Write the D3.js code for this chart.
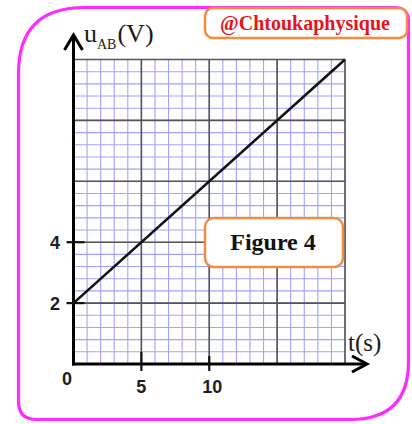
<!DOCTYPE html>
<html>
<head>
<meta charset="utf-8">
<script src="https://cdn.jsdelivr.net/npm/d3@7"></script>
<style>
  html, body { margin: 0; padding: 0; background: #fff; }
  svg { display: block; }
</style>
</head>
<body>
<svg id="chart" width="412" height="424"></svg>
<script>
// Measured points of u_AB(t)
const timeS = [0, 20];
const voltageV = [2, 10];

// Axis domains and tick labels
const tDomain = [0, 20];
const uDomain = [0, 10];
const xTickValues = [5, 10];
const yTickValues = [2, 4];
const majorStepT = 5, minorStepT = 1;
const majorStepU = 2, minorStepU = 0.4;

const svg = d3.select("#chart");

const x = d3.scaleLinear().domain(tDomain).range([73.5, 345]);
const y = d3.scaleLinear().domain(uDomain).range([364, 59.5]);

// Outer magenta frame with uneven corner radii
function frame(x0, y0, x1, y1, tl, tr, br, bl) {
  return `M${x0 + tl},${y0} L${x1 - tr},${y0} Q${x1},${y0} ${x1},${y0 + tr}` +
    ` L${x1},${y1 - br} Q${x1},${y1} ${x1 - br},${y1}` +
    ` L${x0 + bl},${y1} Q${x0},${y1} ${x0},${y1 - bl}` +
    ` L${x0},${y0 + tl} Q${x0},${y0} ${x0 + tl},${y0} Z`;
}
svg.append("path")
  .attr("d", frame(18.5, 7.5, 408.5, 419.5, 66, 14, 58, 18))
  .attr("fill", "none")
  .attr("stroke", "#ff2bff")
  .attr("stroke-width", 3.2);

// Grid: minor lines
const g = svg.append("g");
const minorT = d3.range(tDomain[0], tDomain[1] + 1e-9, minorStepT);
const minorU = d3.range(uDomain[0], uDomain[1] + 1e-9, minorStepU);
g.selectAll(".mt").data(minorT).join("line")
  .attr("x1", d => x(d)).attr("x2", d => x(d))
  .attr("y1", y(uDomain[0])).attr("y2", y(uDomain[1]))
  .attr("stroke", "#a2a2ff").attr("stroke-width", 1.1);
g.selectAll(".mu").data(minorU).join("line")
  .attr("x1", x(tDomain[0])).attr("x2", x(tDomain[1]))
  .attr("y1", d => y(d)).attr("y2", d => y(d))
  .attr("stroke", "#a2a2ff").attr("stroke-width", 1.1);

// Grid: major lines
const majorT = d3.range(tDomain[0], tDomain[1] + 1e-9, majorStepT);
const majorU = d3.range(uDomain[0], uDomain[1] + 1e-9, majorStepU);
g.selectAll(".Mt").data(majorT).join("line")
  .attr("x1", d => x(d)).attr("x2", d => x(d))
  .attr("y1", y(uDomain[0])).attr("y2", y(uDomain[1]))
  .attr("stroke", "#555").attr("stroke-width", 1.6);
g.selectAll(".Mu").data(majorU).join("line")
  .attr("x1", x(tDomain[0])).attr("x2", x(tDomain[1]))
  .attr("y1", d => y(d)).attr("y2", d => y(d))
  .attr("stroke", "#555").attr("stroke-width", 1.6);

// The graph u_AB = f(t)
const line = d3.line().x(d => x(d[0])).y(d => y(d[1]));
svg.append("path")
  .datum(timeS.map((t, i) => [t, voltageV[i]]))
  .attr("d", line)
  .attr("fill", "none")
  .attr("stroke", "#111")
  .attr("stroke-width", 2.6);

// Axes with arrow heads
const axisColor = "#000";
svg.append("line")
  .attr("x1", x(0)).attr("x2", x(0))
  .attr("y1", y(0) + 1.5).attr("y2", 35)
  .attr("stroke", axisColor).attr("stroke-width", 3);
svg.append("path")
  .attr("d", `M${x(0) - 9},${50} L${x(0)},${35} L${x(0) + 9},${50}`)
  .attr("fill", "none").attr("stroke", axisColor).attr("stroke-width", 3);
svg.append("line")
  .attr("x1", x(0) - 1.5).attr("x2", 366)
  .attr("y1", y(0)).attr("y2", y(0))
  .attr("stroke", axisColor).attr("stroke-width", 3);
svg.append("path")
  .attr("d", `M352,${y(0) - 8} L367,${y(0)} L352,${y(0) + 8}`)
  .attr("fill", "none").attr("stroke", axisColor).attr("stroke-width", 3);

// Tick marks
svg.selectAll(".yt").data(yTickValues).join("line")
  .attr("x1", x(0) - 7).attr("x2", x(0) + 11)
  .attr("y1", d => y(d)).attr("y2", d => y(d))
  .attr("stroke", "#111").attr("stroke-width", 2.2);
svg.selectAll(".xt").data(xTickValues).join("line")
  .attr("x1", d => x(d)).attr("x2", d => x(d))
  .attr("y1", (d, i) => y(0) - (i === 0 ? 12 : 8))
  .attr("y2", y(0) + 7)
  .attr("stroke", "#111").attr("stroke-width", 2.2);

// Tick labels
const numFont = "'Liberation Sans', Arial, sans-serif";
svg.selectAll(".yl").data(yTickValues).join("text")
  .attr("x", 55).attr("y", d => y(d) + 7)
  .attr("text-anchor", "middle")
  .attr("font-family", numFont).attr("font-weight", "bold").attr("font-size", 18)
  .attr("fill", "#1e1e1e")
  .text(d => d);
svg.selectAll(".xl").data(xTickValues).join("text")
  .attr("x", d => x(d) + (d >= 10 ? 3 : 0)).attr("y", 393)
  .attr("text-anchor", "middle")
  .attr("font-family", numFont).attr("font-weight", "bold").attr("font-size", 18)
  .attr("fill", "#1e1e1e")
  .text(d => d);
svg.append("text")
  .attr("x", 67).attr("y", 385)
  .attr("text-anchor", "middle")
  .attr("font-family", numFont).attr("font-weight", "bold").attr("font-size", 18)
  .attr("fill", "#1e1e1e")
  .text("0");

// Axis titles
const serif = "'Liberation Serif', 'Times New Roman', serif";
const yTitle = svg.append("text")
  .attr("x", 84).attr("y", 42)
  .attr("font-family", serif).attr("font-size", 26).attr("fill", "#1a1a1a");
yTitle.append("tspan").text("u");
yTitle.append("tspan").attr("font-size", 14).attr("dy", 7).text("AB");
yTitle.append("tspan").attr("dy", -7).attr("dx", 1).text("(V)");

svg.append("text")
  .attr("x", 348).attr("y", 351)
  .attr("font-family", serif).attr("font-size", 25).attr("fill", "#1a1a1a")
  .text("t(s)");

// "Figure 4" caption box
svg.append("rect")
  .attr("x", 205).attr("y", 218).attr("width", 138).attr("height", 49)
  .attr("rx", 9)
  .attr("fill", "#fff").attr("stroke", "#f28c3e").attr("stroke-width", 2.5);
svg.append("text")
  .attr("x", 273).attr("y", 250)
  .attr("text-anchor", "middle")
  .attr("font-family", serif).attr("font-weight", "bold").attr("font-size", 24)
  .attr("fill", "#111")
  .text("Figure 4");

// Signature box
svg.append("rect")
  .attr("x", 205).attr("y", 8).attr("width", 202).attr("height", 30)
  .attr("rx", 8)
  .attr("fill", "#fff").attr("stroke", "#f28c3e").attr("stroke-width", 2.5);
svg.append("text")
  .attr("x", 305).attr("y", 30)
  .attr("text-anchor", "middle")
  .attr("font-family", serif).attr("font-weight", "bold").attr("font-size", 20)
  .attr("fill", "#e8141c")
  .text("@Chtoukaphysique");
</script>
</body>
</html>
